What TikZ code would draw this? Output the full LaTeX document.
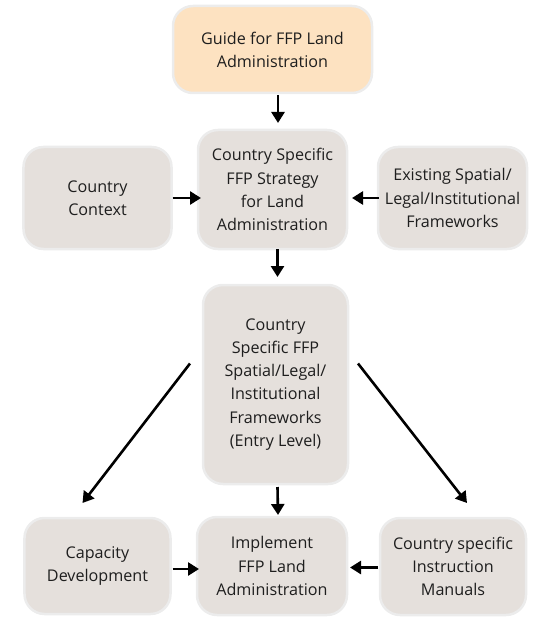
\documentclass[tikz,border=0pt]{standalone}
\usepackage{fontspec}
\setmainfont{Open Sans}
\usetikzlibrary{arrows.meta,calc}
\definecolor{boxfill}{HTML}{E5E0DC}
\definecolor{guidefill}{HTML}{FDE2C1}
\definecolor{boxline}{HTML}{ECECEC}
\definecolor{txt}{HTML}{1E1E1E}
\tikzset{
  box/.style={rectangle, rounded corners=20bp, fill=boxfill, draw=boxline, line width=2.5bp,
    outer sep=0pt, inner sep=0pt, align=center, text=txt,
    font=\fontsize{16.2}{23.2}\selectfont},
  arr/.style={line width=2.6bp, -{Triangle[width=13bp,length=11bp]}},
}
\begin{document}
\begin{tikzpicture}[x=1bp,y=-1bp]
\useasboundingbox (0,0) rectangle (538,620);
\node[box, fill=guidefill, minimum width=199bp, minimum height=87bp] (guide) at (272.5,49.5) {Guide for FFP Land\\Administration};
\node[box, minimum width=148bp, minimum height=102bp] (ctx) at (97.5,198) {Country\\Context};
\node[box, minimum width=149bp, minimum height=119bp] (strat) at (272.5,189.5) {Country Specific\\FFP Strategy\\for Land\\Administration};
\node[box, minimum width=149bp, minimum height=102bp] (exist) at (452.5,198) {Existing Spatial/\\Legal/Institutional\\Frameworks};
\node[box, minimum width=145bp, minimum height=199bp] (fw) at (275.5,384.5) {Country\\Specific FFP\\Spatial/Legal/\\Institutional\\Frameworks\\(Entry Level)};
\node[box, minimum width=146bp, minimum height=96bp] (cap) at (97.5,566) {Capacity\\Development};
\node[box, minimum width=150bp, minimum height=98bp] (impl) at (272,566) {Implement\\FFP Land\\Administration};
\node[box, minimum width=146bp, minimum height=97bp] (inst) at (453,566.5) {Country specific\\Instruction\\Manuals};
\draw[arr] ($(guide.south)+(5.5,2)$) -- ($(strat.north)+(5.5,-7)$);
\draw[arr] ($(strat.south)+(5,0)$) -- ($(fw.north)+(2,-8)$);
\draw[arr] ($(fw.south)+(2,3)$) -- ($(impl.north)+(6,-2)$);
\draw[arr] ($(ctx.east)+(1,0)$) -- ($(ctx.east -| strat.west)+(3,0)$);
\draw[arr] ($(exist.west)+(1,0)$) -- ($(exist.west -| strat.east)+(5,0)$);
\draw[arr] ($(cap.east)+(2,3)$) -- ($(cap.east -| impl.west)+(2,3)$);
\draw[arr] ($(inst.west)+(-2,1)$) -- ($(inst.west -| impl.east)+(3,1)$);
\draw[arr] ($(fw.west)+(-13,-21)$) -- ($(cap.north)+(-15,-15)$);
\draw[arr] ($(fw.east)+(10,-21)$) -- ($(inst.north)+(14,-15)$);
\end{tikzpicture}
\end{document}
